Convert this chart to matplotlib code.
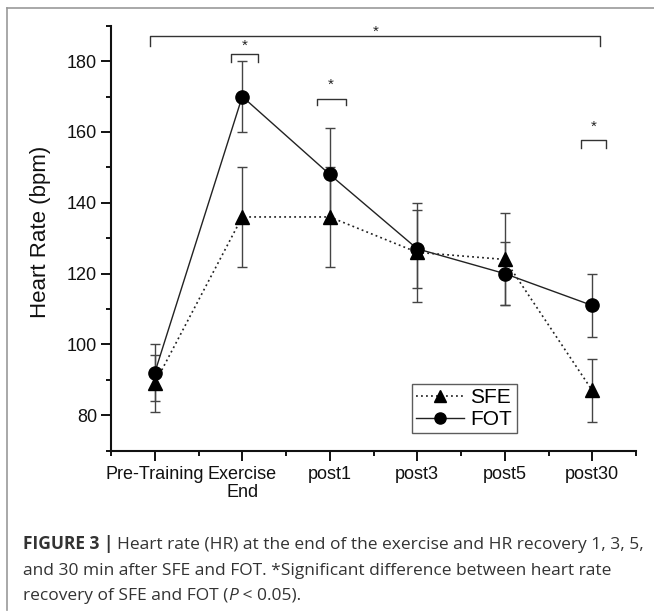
import matplotlib
matplotlib.use("Agg")
import matplotlib.pyplot as plt
from matplotlib.lines import Line2D
from matplotlib.ticker import FixedLocator

plt.rcParams['font.family'] = ['Liberation Sans', 'DejaVu Sans']

categories = ["Pre-Training", "Exercise\nEnd", "post1", "post3", "post5", "post30"]
sfe_mean = [89, 136, 136, 126, 124, 87]
sfe_err = [8, 14, 14, 14, 13, 9]
fot_mean = [92, 170, 148, 127, 120, 111]
fot_err = [8, 10, 13, 11, 9, 9]

# significance brackets: (x_left, x_right, y_top, y_bottom, y_star)
brackets = [(-0.05, 5.09, 187.0, 184.4, 188.3),
            (0.87, 1.18, 182.1, 179.7, 184.4),
            (1.85, 2.18, 169.4, 167.5, 173.4),
            (4.87, 5.16, 157.8, 155.6, 161.5)]

W, H = 654, 614
fig = plt.figure(figsize=(W / 100, H / 100), dpi=100)

def px(x, y):
    return x / W, 1 - y / H

l, t = px(111, 25.7)
r, b = px(636, 450.7)
ax = fig.add_axes([l, b, r - l, t - b])

x = list(range(len(categories)))
ecol = "#444444"
ax.errorbar(x, sfe_mean, yerr=sfe_err, fmt='none', ecolor=ecol, elinewidth=1.0,
            capsize=3.3, capthick=1.0, zorder=2)
ax.errorbar(x, fot_mean, yerr=fot_err, fmt='none', ecolor=ecol, elinewidth=1.0,
            capsize=3.3, capthick=1.0, zorder=2)
ax.plot(x, sfe_mean, linestyle=(0, (1.1, 1.9)), color='#222222', lw=1.2,
        marker='^', markersize=9.5, markerfacecolor='black', markeredgecolor='black', zorder=3)
ax.plot(x, fot_mean, linestyle='-', color='#222222', lw=1.0,
        marker='o', markersize=9.5, markerfacecolor='black', markeredgecolor='black', zorder=3)

for (x0, x1, yt, yb, ys) in brackets:
    ax.plot([x0, x0, x1, x1], [yb, yt, yt, yb], color='#333333', lw=1.0,
            clip_on=False, zorder=2)
    ax.text((x0 + x1) / 2, ys, "*", ha='center', va='center', fontsize=11,
            color='#222222', clip_on=False)

ax.set_xlim(-0.5, 5.5)
ax.set_ylim(70, 190)
for s in ['top', 'right']:
    ax.spines[s].set_visible(False)
for s in ['left', 'bottom']:
    ax.spines[s].set_linewidth(1.5)
    ax.spines[s].set_color('#111111')

ax.set_xticks(x)
ax.set_xticklabels(categories, fontsize=13, linespacing=1.1)
ax.xaxis.set_minor_locator(FixedLocator([-0.5, 0.5, 1.5, 2.5, 3.5, 4.5, 5.5]))
ax.yaxis.set_major_locator(FixedLocator([80, 100, 120, 140, 160, 180]))
ax.yaxis.set_minor_locator(FixedLocator([70, 90, 110, 130, 150, 170, 190]))
ax.tick_params(axis='both', which='major', direction='out', length=7, width=1.4,
               colors='#111111', labelsize=13)
ax.tick_params(axis='both', which='minor', direction='out', length=3.5, width=1.4,
               colors='#111111')
ax.tick_params(axis='y', which='major', pad=3)
ax.tick_params(axis='x', which='major', pad=4)

fig.text(41 / W, 1 - 232 / H, "Heart Rate (bpm)", rotation=90, ha='center', va='center',
         fontsize=16, color='#111111')

handles = [Line2D([], [], linestyle=(0, (1.1, 1.9)), color='#222222', lw=1.2, marker='^',
                  markersize=8, markerfacecolor='black', markeredgecolor='black'),
           Line2D([], [], linestyle='-', color='#222222', lw=1.0, marker='o',
                  markersize=8, markerfacecolor='black', markeredgecolor='black')]
lx0, ly0 = px(411.7, 433.3)
lx1, ly1 = px(517.3, 375)
leg = fig.legend(handles, ["SFE", "FOT"], loc='lower left',
                 bbox_to_anchor=(lx0, ly0, lx1 - lx0, ly1 - ly0), mode='expand',
                 fontsize=15, frameon=True, fancybox=False, handlelength=2.3,
                 handletextpad=0.3, borderpad=0.2, labelspacing=0.15, borderaxespad=0)
leg.get_frame().set_edgecolor('#333333')
leg.get_frame().set_linewidth(1.0)

# figure frame
fig.add_artist(Line2D([7.3 / W, 7.3 / W], [1 - 610 / H, 1 - 8 / H], color='#999999', lw=1.2))
fig.add_artist(Line2D([7.3 / W, 1.0], [1 - 8 / H, 1 - 8 / H], color='#999999', lw=1.2))

# caption
fig.canvas.draw()
renderer = fig.canvas.get_renderer()
ccol = '#333333'
cfs = 12.5
cfam = ['Open Sans', 'DejaVu Sans']
def put(xpix, ypix, s, **kw):
    tt = fig.text(xpix / W, 1 - ypix / H, s, fontsize=cfs, color=ccol, va='baseline',
                  ha='left', family=cfam, **kw)
    bb = tt.get_window_extent(renderer)
    return xpix + bb.width

xx = put(22.7, 549.3, "FIGURE 3 |", fontweight='bold')
put(xx + 4, 549.3, "Heart rate (HR) at the end of the exercise and HR recovery 1, 3, 5,")
put(22.7, 575, "and 30 min after SFE and FOT. *Significant difference between heart rate")
xx = put(22.7, 600, "recovery of SFE and FOT (")
xx = put(xx, 600, "P", fontstyle='italic')
put(xx, 600, " < 0.05).")

fig.savefig("out.png", dpi=100)
